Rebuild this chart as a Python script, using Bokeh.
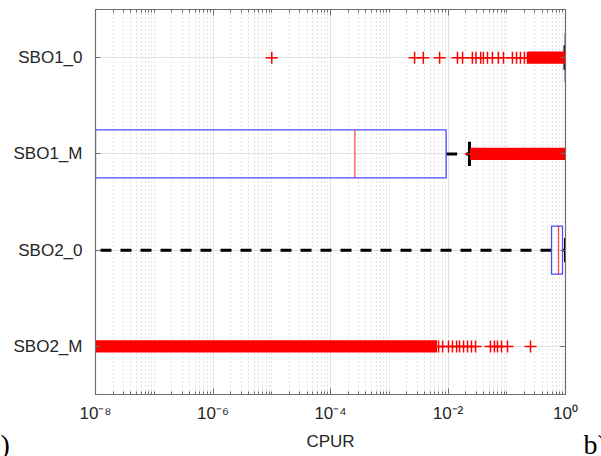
from bokeh.plotting import figure
from bokeh.layouts import row
from bokeh.models import Range1d, FixedTicker, LogAxis, LinearAxis, CustomJSTickFormatter
from bokeh.core.properties import value
from bokeh.embed import file_html
from bokeh.resources import INLINE

# ---------------- data ----------------
categories = ["SBO1_0", "SBO1_M", "SBO2_0", "SBO2_M"]
# box statistics (values below 1e-8 lie outside the visible axis)
lower_whisker = [0.98, 1e-12, 1e-12, 1e-12]
q1 = [0.99, 1e-8, 0.578, 1e-12]
median = [0.995, 2.6e-4, 0.76, 1e-12]
q3 = [1.0, 9.3e-3, 0.89, 1e-12]
upper_whisker = [1.0, 0.0232, 1.0, 1e-12]

# individually visible outliers
outliers_sbo1_0 = [1.0e-5, 2.7e-3, 3.8e-3, 7.2e-3, 0.0145, 0.0177, 0.026, 0.030,
                   0.036, 0.040, 0.047, 0.057, 0.072, 0.088, 0.125, 0.147, 0.171,
                   0.20, 0.225, 1.0]
outliers_sbo1_m = [0.0245, 1.0]
outliers_sbo2_0 = []
outliers_sbo2_m = [6.9e-3, 8.1e-3, 0.0102, 0.0119, 0.014, 0.0157, 0.0184, 0.0215,
                   0.0251, 0.0294, 0.0529, 0.0618, 0.0696, 0.0815, 0.103, 0.254]
# ranges where outliers are so dense that they form a solid band
dense_lo = [0.23, 0.0245, None, 1e-9]
dense_hi = [1.0, 1.0, None, 6.5e-3]

x_ticks = [1e-8, 1e-6, 1e-4, 1e-2, 1.0]
x_tick_labels = ["10\u207b\u2078", "10\u207b\u2076", "10\u207b\u2074", "10\u207b\u00b2", "10\u2070"]
x_label = "CPUR"
captions = [")", "b)"]

# ---------------- styling ----------------
FONT = "Liberation Sans"
TXT = "#262626"
FRAME = "#6e6e6e"
BLUE = "#4d4dff"
RED = "#ff0000"
H = 456

pos = [i + 1 for i in range(len(categories))]

p = figure(width=573, height=H, x_axis_type="log",
           x_range=Range1d(1e-8, 1.0), y_range=Range1d(4.5, 0.5),
           output_backend="svg", toolbar_location=None,
           min_border_left=85, min_border_right=18, min_border_top=9,
           min_border_bottom=62, background_fill_color="white",
           border_fill_color="white")
p.outline_line_color = FRAME
p.outline_line_width = 1.2
p.frame_align = False

minor = []
for k in range(-8, 0):
    for m in range(2, 10):
        minor.append(m * 10.0 ** k)
    if k % 2 != 0:
        minor.append(10.0 ** k)
xticker = FixedTicker(ticks=x_ticks, minor_ticks=minor)
yticker = FixedTicker(ticks=pos)
blank = CustomJSTickFormatter(code="return ''")
xfmt = CustomJSTickFormatter(args=dict(tvals=x_ticks, tlabels=x_tick_labels), code="""
let best = 0, bd = Infinity;
for (let i = 0; i < tvals.length; i++) {
  const d = Math.abs(Math.log10(tvals[i]) - Math.log10(tick));
  if (d < bd) { bd = d; best = i; }
}
return tlabels[best];
""")

for ax in p.axis:
    ax.axis_line_color = FRAME
    ax.major_tick_line_color = FRAME
    ax.minor_tick_line_color = FRAME
    ax.major_tick_out = 0
    ax.minor_tick_out = 0

xa = p.xaxis[0]
xa.ticker = xticker
xa.formatter = xfmt
xa.major_tick_in = 6
xa.minor_tick_in = 3
xa.major_label_standoff = 9
xa.major_label_text_font = FONT
xa.major_label_text_font_size = "17px"
xa.major_label_text_color = TXT
xa.axis_label = x_label
xa.axis_label_text_font = FONT
xa.axis_label_text_font_size = "17px"
xa.axis_label_text_font_style = "normal"
xa.axis_label_text_color = TXT
xa.axis_label_standoff = 6

ya = p.yaxis[0]
ya.ticker = yticker
ya.major_label_overrides = {v: c for v, c in zip(pos, categories)}
ya.major_tick_in = 5
ya.minor_tick_line_color = None
ya.major_label_text_font = FONT
ya.major_label_text_font_size = "17px"
ya.major_label_text_color = TXT
ya.major_label_standoff = 13

top = LogAxis(ticker=xticker, formatter=blank, major_tick_in=6, major_tick_out=0,
              minor_tick_in=3, minor_tick_out=0, axis_line_color=FRAME,
              major_tick_line_color=FRAME, minor_tick_line_color=FRAME,
              major_label_standoff=0, axis_label_standoff=0)
p.add_layout(top, "above")
right = LinearAxis(ticker=yticker, formatter=blank, major_tick_in=5, major_tick_out=0,
                   minor_tick_line_color=None, axis_line_color=FRAME,
                   major_tick_line_color=FRAME, major_label_standoff=0,
                   axis_label_standoff=0)
p.add_layout(right, "right")

p.xgrid.grid_line_color = "#e2e2e2"
p.xgrid.minor_grid_line_color = "#c4c4c4"
p.xgrid.minor_grid_line_dash = "1 3"
p.ygrid.grid_line_color = "#e2e2e2"

# whiskers
p.segment(x0=lower_whisker, x1=q1, y0=pos, y1=pos, line_color="black",
          line_width=3, line_dash="11 9")
p.segment(x0=q3, x1=upper_whisker, y0=pos, y1=pos, line_color="black",
          line_width=3, line_dash="11 9")
# caps
p.segment(x0=lower_whisker, x1=lower_whisker, y0=[v - 0.125 for v in pos],
          y1=[v + 0.125 for v in pos], line_color="black", line_width=3)
p.segment(x0=upper_whisker, x1=upper_whisker, y0=[v - 0.125 for v in pos],
          y1=[v + 0.125 for v in pos], line_color="black", line_width=3)
# boxes
p.quad(left=q1, right=q3, top=[v - 0.25 for v in pos], bottom=[v + 0.25 for v in pos],
       fill_alpha=0, line_color=BLUE, line_width=1.3)
# medians
p.segment(x0=median, x1=median, y0=[v - 0.25 for v in pos], y1=[v + 0.25 for v in pos],
          line_color=RED, line_width=1.2, line_alpha=0.75)

# dense outlier bands
bl, br, bt, bb = [], [], [], []
for i, (lo, hi) in enumerate(zip(dense_lo, dense_hi)):
    if lo is None:
        continue
    bl.append(lo); br.append(hi)
    bt.append(pos[i] - 0.0625); bb.append(pos[i] + 0.0625)
p.quad(left=bl, right=br, top=bt, bottom=bb, fill_color=RED, line_color=None)

# individual outliers
ox, oy = [], []
for i, lst in enumerate([outliers_sbo1_0, outliers_sbo1_m, outliers_sbo2_0, outliers_sbo2_m]):
    ox += lst
    oy += [pos[i]] * len(lst)
p.scatter(x=ox, y=oy, marker="cross", size=12, line_color=RED, line_width=1.5)


# neighbouring panel captions, in thin strips left and right of the chart
def caption_strip(w, txt):
    s = figure(width=w, height=H, x_range=Range1d(0, w), y_range=Range1d(0, H),
               output_backend="svg", toolbar_location=None, min_border=0,
               background_fill_color="white", border_fill_color="white")
    s.frame_align = False
    s.axis.visible = False
    s.grid.visible = False
    s.outline_line_color = None
    s.text(x=[0], y=[28], text=[txt], text_font=value("Liberation Serif"),
           text_font_size="28px", text_baseline="top", text_align="left",
           text_color="black")
    return s


left_strip = caption_strip(10, captions[0])
right_strip = caption_strip(18, captions[1])

layout = row(left_strip, p, right_strip, spacing=0)
open("out.html", "w").write(file_html(layout, INLINE))
